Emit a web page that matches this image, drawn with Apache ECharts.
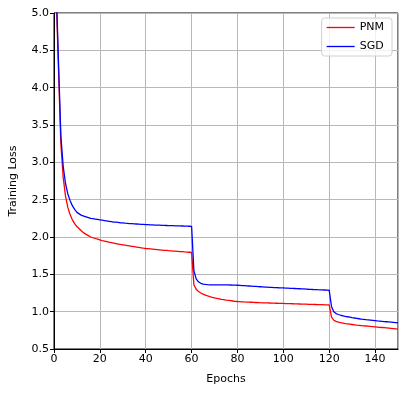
<!DOCTYPE html>
<html lang="en">
<head>
    <meta charset="UTF-8">
    <title>training loss</title>
    <script src="https://cdn.jsdelivr.net/npm/echarts@6/dist/echarts.min.js"></script>
    <style>
        html, body { margin: 0; padding: 0; background: #fff; }
    </style>
</head>
<body>
<div id="main" style="width: 407px;height:396px;"></div>

<script>
    // loss per epoch (epoch 1..150)
    const pnm = [
        5.20, 4.20, 3.25, 2.80, 2.55, 2.40, 2.30, 2.23, 2.18, 2.14,
        2.11, 2.08, 2.055, 2.035, 2.018, 2.00, 1.99, 1.98, 1.97, 1.96,
        1.952, 1.945, 1.938, 1.93, 1.924, 1.918, 1.912, 1.906, 1.90, 1.895,
        1.89, 1.885, 1.88, 1.875, 1.87, 1.865, 1.86, 1.855, 1.85, 1.846,
        1.843, 1.84, 1.837, 1.834, 1.831, 1.828, 1.825, 1.822, 1.82, 1.817,
        1.815, 1.812, 1.81, 1.808, 1.805, 1.803, 1.80, 1.798, 1.796, 1.794,
        1.36, 1.30, 1.27, 1.25, 1.235, 1.222, 1.211, 1.201, 1.192, 1.184,
        1.177, 1.171, 1.165, 1.16, 1.155, 1.151, 1.147, 1.143, 1.139, 1.136,
        1.134, 1.132, 1.13, 1.129, 1.127, 1.126, 1.124, 1.123, 1.122, 1.12,
        1.119, 1.118, 1.117, 1.116, 1.115, 1.114, 1.113, 1.112, 1.111, 1.11,
        1.109, 1.108, 1.107, 1.106, 1.105, 1.104, 1.103, 1.102, 1.101, 1.10,
        1.099, 1.098, 1.097, 1.096, 1.095, 1.094, 1.093, 1.092, 1.091, 1.09,
        0.93, 0.885, 0.87, 0.86, 0.852, 0.846, 0.84, 0.836, 0.832, 0.828,
        0.824, 0.82, 0.817, 0.814, 0.811, 0.808, 0.805, 0.802, 0.80, 0.797,
        0.794, 0.791, 0.788, 0.785, 0.782, 0.779, 0.776, 0.773, 0.77, 0.767
    ];
    const sgd = [
        5.30, 4.30, 3.35, 2.95, 2.72, 2.58, 2.49, 2.42, 2.37, 2.33,
        2.31, 2.29, 2.28, 2.27, 2.26, 2.25, 2.245, 2.24, 2.235, 2.23,
        2.225, 2.22, 2.215, 2.21, 2.205, 2.20, 2.198, 2.195, 2.19, 2.188,
        2.185, 2.183, 2.18, 2.178, 2.176, 2.174, 2.172, 2.17, 2.168, 2.166,
        2.165, 2.163, 2.162, 2.16, 2.159, 2.158, 2.156, 2.155, 2.154, 2.153,
        2.152, 2.151, 2.15, 2.149, 2.148, 2.147, 2.146, 2.145, 2.144, 2.143,
        1.55, 1.44, 1.40, 1.38, 1.37, 1.365, 1.362, 1.36, 1.36, 1.36,
        1.36, 1.36, 1.36, 1.359, 1.358, 1.358, 1.357, 1.356, 1.355, 1.354,
        1.352, 1.35, 1.348, 1.346, 1.344, 1.342, 1.34, 1.338, 1.336, 1.334,
        1.332, 1.33, 1.328, 1.326, 1.325, 1.323, 1.322, 1.32, 1.319, 1.318,
        1.316, 1.315, 1.313, 1.312, 1.31, 1.308, 1.307, 1.305, 1.304, 1.302,
        1.30, 1.299, 1.297, 1.296, 1.294, 1.293, 1.291, 1.29, 1.288, 1.287,
        1.07, 1.00, 0.975, 0.962, 0.952, 0.945, 0.938, 0.932, 0.926, 0.92,
        0.915, 0.91, 0.905, 0.90, 0.897, 0.893, 0.89, 0.887, 0.884, 0.881,
        0.877, 0.874, 0.871, 0.868, 0.865, 0.862, 0.859, 0.856, 0.853, 0.85
    ];
    const epochs = pnm.map((v, i) => i + 1);

    const font = 'DejaVu Sans';
    const pairs = arr => arr.map((v, i) => [epochs[i], v]);

    const myChart = echarts.init(document.getElementById('main'));
    myChart.setOption({
        animation: false,
        textStyle: { fontFamily: font },
        grid: {
            left: 53, right: 9, top: 13, bottom: 47,
            show: true, borderColor: '#000', borderWidth: 1
        },
        legend: {
            orient: 'vertical',
            right: 15, top: 18,
            icon: 'rect',
            itemWidth: 28, itemHeight: 1.3, itemGap: 6,
            padding: [3, 8, 3, 5],
            backgroundColor: 'rgba(255,255,255,0.8)',
            borderColor: '#d0d0d0', borderWidth: 1, borderRadius: 3,
            textStyle: { fontFamily: font, fontSize: 11, color: '#000', lineHeight: 13 },
            data: ['PNM', 'SGD']
        },
        xAxis: {
            type: 'value', min: 0, max: 150, interval: 20,
            name: 'Epochs', nameLocation: 'middle', nameGap: 25,
            nameTextStyle: { fontFamily: font, fontSize: 11, color: '#000' },
            axisLine: { lineStyle: { color: '#000', width: 1 } },
            axisTick: { length: 4, lineStyle: { color: '#000' } },
            axisLabel: { fontFamily: font, fontSize: 11, color: '#000', margin: 5, showMaxLabel: false },
            splitLine: { show: true, lineStyle: { color: '#b8b8b8', width: 1 } }
        },
        yAxis: {
            type: 'value', min: 0.5, max: 5.0, interval: 0.5,
            name: 'Training Loss', nameLocation: 'middle', nameGap: 35,
            nameTextStyle: { fontFamily: font, fontSize: 11, color: '#000' },
            axisLine: { show: true, lineStyle: { color: '#000', width: 1 } },
            axisTick: { show: true, length: 4, lineStyle: { color: '#000' } },
            axisLabel: { fontFamily: font, fontSize: 11, color: '#000', margin: 5,
                formatter: v => v.toFixed(1) },
            splitLine: { show: true, lineStyle: { color: '#b8b8b8', width: 1 } }
        },
        series: [
            {
                name: 'PNM', type: 'line', data: pairs(pnm),
                symbol: 'none', clip: true,
                lineStyle: { color: '#ff0000', width: 1.3 },
                itemStyle: { color: '#ff0000' }
            },
            {
                name: 'SGD', type: 'line', data: pairs(sgd),
                symbol: 'none', clip: true,
                lineStyle: { color: '#0000ff', width: 1.3 },
                itemStyle: { color: '#0000ff' }
            }
        ]
    });
</script>
</body>
</html>
